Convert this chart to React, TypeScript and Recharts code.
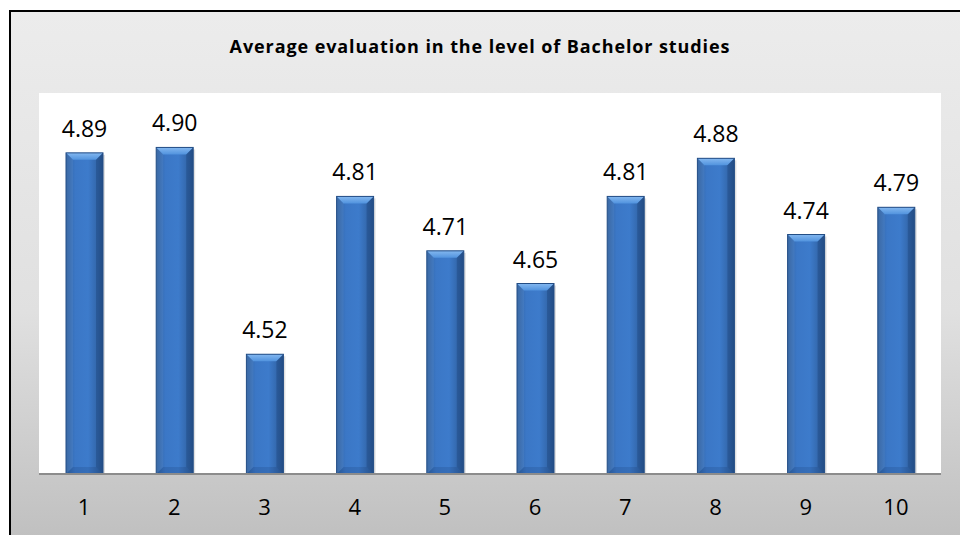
import { Bar, BarChart, CartesianGrid, LabelList, XAxis, YAxis } from 'recharts'

const categories = ['1', '2', '3', '4', '5', '6', '7', '8', '9', '10']
const scores = [4.89, 4.9, 4.52, 4.81, 4.71, 4.65, 4.81, 4.88, 4.74, 4.79]
const yDomain = [4.3, 5.0]

const data = categories.map((c, i) => ({ cat: c, score: scores[i] }))

const FONT = '"Open Sans", "Liberation Sans", sans-serif'

function BevelBar(props: any) {
  const { x, y, width, height } = props
  if (height <= 0) return null
  const b = 7
  return (
    <g>
      <rect x={x + 2} y={y + 2} width={width} height={height - 2} fill="rgba(0,0,0,0.12)" />
      <rect x={x} y={y} width={width} height={height} fill="url(#barBody)" />
      <polygon
        points={`${x},${y} ${x + width},${y} ${x + width - b},${y + b} ${x + b},${y + b}`}
        fill="url(#barTop)"
      />
      <polygon
        points={`${x},${y} ${x + b},${y + b} ${x + b},${y + height - b} ${x},${y + height}`}
        fill="rgba(255,255,255,0.06)"
      />
      <polygon
        points={`${x + width},${y} ${x + width - b},${y + b} ${x + width - b},${y + height - b} ${x + width},${y + height}`}
        fill="rgba(0,20,60,0.18)"
      />
      <polygon
        points={`${x},${y + height} ${x + b},${y + height - b} ${x + width - b},${y + height - b} ${x + width},${y + height}`}
        fill="rgba(0,20,60,0.12)"
      />
      <rect x={x} y={y} width={width} height={height} fill="none" stroke="#234d85" strokeWidth={1} />
    </g>
  )
}

export default function App() {
  return (
    <div
      style={{
        position: 'absolute',
        left: 0,
        top: 0,
        width: 960,
        height: 535,
        overflow: 'hidden',
        background: '#ffffff',
      }}
    >
      <div
        style={{
          position: 'absolute',
          left: 9,
          top: 10,
          width: 980,
          height: 560,
          borderLeft: '2px solid #000',
          borderTop: '2px solid #000',
          background: 'linear-gradient(to bottom, #ececec 0px, #e0e0e0 300px, #c0c0c0 525px)',
        }}
      />
      <div
        style={{
          position: 'absolute',
          left: 0,
          top: 34,
          width: 960,
          textAlign: 'center',
          fontFamily: FONT,
          fontWeight: 'bold',
          fontSize: 18,
          letterSpacing: 0.9,
          color: '#000',
        }}
      >
        Average evaluation in the level of Bachelor studies
      </div>
      <div style={{ position: 'absolute', left: 0, top: 0 }}>
        <BarChart
          width={960}
          height={535}
          data={data}
          margin={{ top: 93, right: 19, bottom: 0, left: 39 }}
          barCategoryGap={0}
        >
          <defs>
            <linearGradient id="barBody" x1="0" y1="0" x2="1" y2="0">
              <stop offset="0%" stopColor="#2e609f" />
              <stop offset="25%" stopColor="#3b77c6" />
              <stop offset="60%" stopColor="#3d7bcb" />
              <stop offset="100%" stopColor="#2c5a96" />
            </linearGradient>
            <linearGradient id="barTop" x1="0" y1="0" x2="0" y2="1">
              <stop offset="0%" stopColor="#84b8f0" />
              <stop offset="100%" stopColor="#5193de" />
            </linearGradient>
          </defs>
          <CartesianGrid fill="#ffffff" horizontal={false} vertical={false} />
          <XAxis
            dataKey="cat"
            height={61}
            tickLine={false}
            tickSize={0}
            tickMargin={25}
            stroke="#8c8c8c"
            strokeWidth={2}
            tick={{ fill: '#000', fontSize: 22, fontFamily: FONT }}
          />
          <YAxis hide domain={yDomain} allowDataOverflow />
          <Bar dataKey="score" barSize={37} shape={<BevelBar />} isAnimationActive={false}>
            <LabelList
              dataKey="score"
              position="top"
              offset={16}
              formatter={(v: any) => Number(v).toFixed(2)}
              style={{ fill: '#000', fontSize: 23, fontFamily: FONT }}
            />
          </Bar>
        </BarChart>
      </div>
    </div>
  )
}
